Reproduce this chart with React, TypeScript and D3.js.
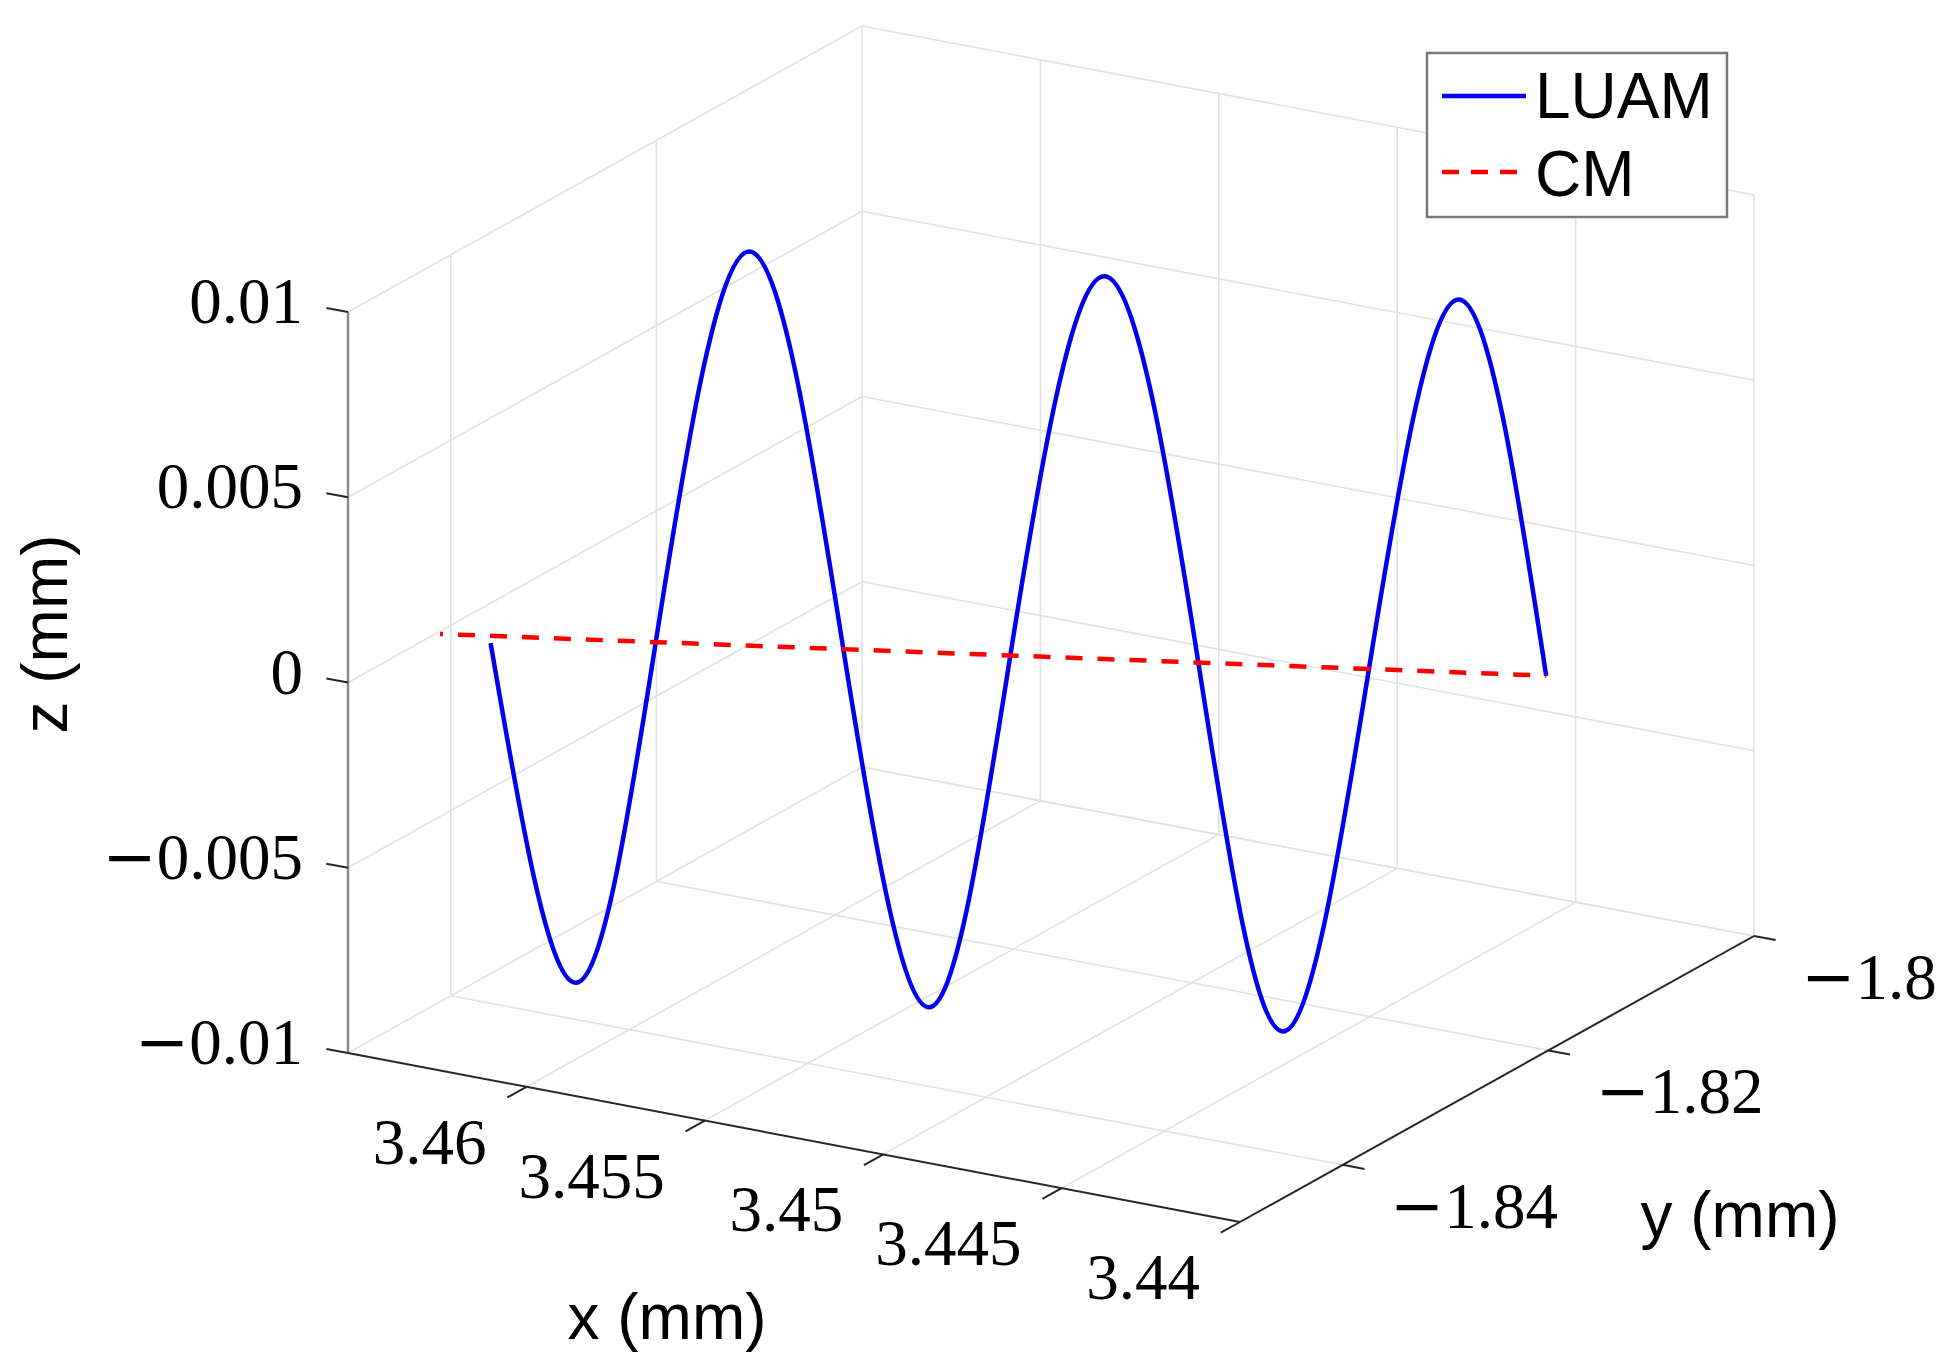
import * as d3 from "d3";

// axis ticks
const xTicks = [3.46, 3.455, 3.45, 3.445, 3.44];
const xTickLabels = ["3.46", "3.455", "3.45", "3.445", "3.44"];
const yTicks = [-1.84, -1.82, -1.8];
const yTickLabels = ["−1.84", "−1.82", "−1.8"];
const zTicks = [-0.01, -0.005, 0, 0.005, 0.01];
const zTickLabels = ["−0.01", "−0.005", "0", "0.005", "0.01"];

// LUAM trajectory (knots: start, troughs, crossings, peaks, end)
const luamX = [3.46378, 3.4619, 3.46009, 3.458, 3.4559, 3.45399, 3.45217, 3.45007, 3.44797, 3.44608, 3.44416, 3.44215, 3.4402];
const luamY = [-1.84036, -1.8387, -1.8371, -1.83525, -1.8334, -1.83171, -1.8301, -1.82824, -1.82639, -1.82472, -1.82302, -1.82125, -1.81952];
const luamZ = [-0.0002, -0.00928, 0, 0.01063, 0, -0.00958, 0, 0.01033, 0, -0.00987, 0, 0.01007, 0];

// CM trajectory
const cmX = [3.4649, 3.4402];
const cmY = [-1.8414, -1.8195];
const cmZ = [0, 0];

const W = 1947;
const H = 1365;

const xLim = [3.465, 3.44];
const yLim = [-1.85, -1.8];
const zLim = [-0.01, 0.01];

// screen placement of the box: front-left-bottom corner and the three edge vectors
const origin = [348, 1053];
const vx = [892, 169];
const vy = [514, -286];
const vz = [0, -741];

const fx = d3.scaleLinear().domain(xLim).range([0, 1]);
const fy = d3.scaleLinear().domain(yLim).range([0, 1]);
const fz = d3.scaleLinear().domain(zLim).range([0, 1]);

function project(x: number, y: number, z: number): [number, number] {
  const a = fx(x), b = fy(y), c = fz(z);
  return [
    origin[0] + a * vx[0] + b * vy[0] + c * vz[0],
    origin[1] + a * vx[1] + b * vy[1] + c * vz[1],
  ];
}

const gridColor = "#e2e2e2";
const axisColor = "#262626";
const tickLen = 22;

const serif = "'Liberation Serif', 'Times New Roman', serif";
const sans = "'Liberation Sans', Arial, sans-serif";

type Seg = [[number, number], [number, number]];

function gridSegments(): Seg[] {
  const segs: Seg[] = [];
  const [x0, x1] = xLim;
  const [y0, y1] = yLim;
  const [z0, z1] = zLim;
  // left wall (x = x0)
  zTicks.forEach((z) => segs.push([project(x0, y0, z), project(x0, y1, z)]));
  yTicks.forEach((y) => segs.push([project(x0, y, z0), project(x0, y, z1)]));
  // back wall (y = y1)
  zTicks.forEach((z) => segs.push([project(x0, y1, z), project(x1, y1, z)]));
  xTicks.forEach((x) => segs.push([project(x, y1, z0), project(x, y1, z1)]));
  // floor (z = z0)
  xTicks.forEach((x) => segs.push([project(x, y0, z0), project(x, y1, z0)]));
  yTicks.forEach((y) => segs.push([project(x0, y, z0), project(x1, y, z0)]));
  return segs;
}

const line2d = d3.line<[number, number]>().curve(d3.curveNatural);
const straight = d3.line<[number, number]>();

// LaTeX-style minus is longer than the Liberation one
function TickText({ label }: { label: string }) {
  if (label.startsWith("−")) {
    return (
      <>
        <tspan fontFamily="'DejaVu Serif', serif">−</tspan>
        <tspan>{label.slice(1)}</tspan>
      </>
    );
  }
  return <>{label}</>;
}

export default function App() {
  const [x0, x1] = xLim;
  const [y0, y1] = yLim;
  const [z0, z1] = zLim;

  const luamPts = luamX.map((x, i) => project(x, luamY[i], luamZ[i]));
  const cmPts = cmX.map((x, i) => project(x, cmY[i], cmZ[i]));

  const xAxisA = project(x0, y0, z0);
  const xAxisB = project(x1, y0, z0);
  const yAxisB = project(x1, y1, z0);
  const zAxisT = project(x0, y0, z1);

  const lenVx = Math.hypot(vx[0], vx[1]);
  const lenVy = Math.hypot(vy[0], vy[1]);
  const ux = [vx[0] / lenVx, vx[1] / lenVx];
  const uy = [vy[0] / lenVy, vy[1] / lenVy];

  return (
    <svg
      width={W}
      height={H}
      style={{ position: "absolute", left: 0, top: 0, background: "#fff" }}
    >
      <rect width={W} height={H} fill="#fff" />

      {/* grid */}
      <g stroke={gridColor} strokeWidth={1.6} fill="none">
        {gridSegments().map((s, i) => (
          <line key={i} x1={s[0][0]} y1={s[0][1]} x2={s[1][0]} y2={s[1][1]} />
        ))}
      </g>

      {/* z axis */}
      <g>
        <line x1={xAxisA[0]} y1={xAxisA[1]} x2={zAxisT[0]} y2={zAxisT[1]} stroke="#8c8c8c" strokeWidth={2.5} />
        {zTicks.map((z, i) => {
          const p = project(x0, y0, z);
          return (
            <g key={i}>
              <line
                x1={p[0]}
                y1={p[1]}
                x2={p[0] - ux[0] * tickLen}
                y2={p[1] - ux[1] * tickLen}
                stroke={axisColor}
                strokeWidth={2}
              />
              <text x={p[0] - 45} y={p[1] + 11} textAnchor="end" fontFamily={serif} fontSize={65} fill="#000">
                <TickText label={zTickLabels[i]} />
              </text>
            </g>
          );
        })}
        <text
          transform={`translate(67,634) rotate(-90)`}
          textAnchor="middle"
          fontFamily={sans}
          fontSize={64}
          fill="#000"
        >
          z (mm)
        </text>
      </g>

      {/* x axis */}
      <g>
        <line x1={xAxisA[0]} y1={xAxisA[1]} x2={xAxisB[0]} y2={xAxisB[1]} stroke={axisColor} strokeWidth={2} />
        {xTicks.map((x, i) => {
          const p = project(x, y0, z0);
          return (
            <g key={i}>
              <line
                x1={p[0]}
                y1={p[1]}
                x2={p[0] - uy[0] * tickLen}
                y2={p[1] - uy[1] * tickLen}
                stroke={axisColor}
                strokeWidth={2}
              />
              <text x={p[0] - 40} y={p[1] + 77} textAnchor="end" fontFamily={serif} fontSize={65} fill="#000">
                {xTickLabels[i]}
              </text>
            </g>
          );
        })}
        <text x={667} y={1339} textAnchor="middle" fontFamily={sans} fontSize={64} fill="#000">
          x (mm)
        </text>
      </g>

      {/* y axis */}
      <g>
        <line x1={xAxisB[0]} y1={xAxisB[1]} x2={yAxisB[0]} y2={yAxisB[1]} stroke={axisColor} strokeWidth={2} />
        {yTicks.map((y, i) => {
          const p = project(x1, y, z0);
          return (
            <g key={i}>
              <line
                x1={p[0]}
                y1={p[1]}
                x2={p[0] + ux[0] * tickLen}
                y2={p[1] + ux[1] * tickLen}
                stroke={axisColor}
                strokeWidth={2}
              />
              <text x={p[0] + 47} y={p[1] + 63} textAnchor="start" fontFamily={serif} fontSize={65} fill="#000">
                <TickText label={yTickLabels[i]} />
              </text>
            </g>
          );
        })}
        <text x={1740} y={1237} textAnchor="middle" fontFamily={sans} fontSize={64} fill="#000">
          y (mm)
        </text>
      </g>

      {/* data */}
      <path d={line2d(luamPts) || ""} fill="none" stroke="#0000f0" strokeWidth={4.5} strokeLinejoin="round" />
      <path
        d={straight(cmPts) || ""}
        fill="none"
        stroke="#ff0000"
        strokeWidth={4.5}
        strokeDasharray="17 15"
        strokeDashoffset={14}
      />

      {/* legend */}
      <g>
        <rect x={1427} y={53} width={300} height={164} fill="#fff" stroke="#7a7a7a" strokeWidth={2.5} />
        <line x1={1442} y1={96} x2={1526} y2={96} stroke="#0000f0" strokeWidth={4.5} />
        <line x1={1442} y1={172} x2={1526} y2={172} stroke="#ff0000" strokeWidth={4.5} strokeDasharray="17 12" />
        <text x={1535} y={118} fontFamily={sans} fontSize={64} fill="#000">
          LUAM
        </text>
        <text x={1535} y={196} fontFamily={sans} fontSize={64} fill="#000">
          CM
        </text>
      </g>
    </svg>
  );
}
